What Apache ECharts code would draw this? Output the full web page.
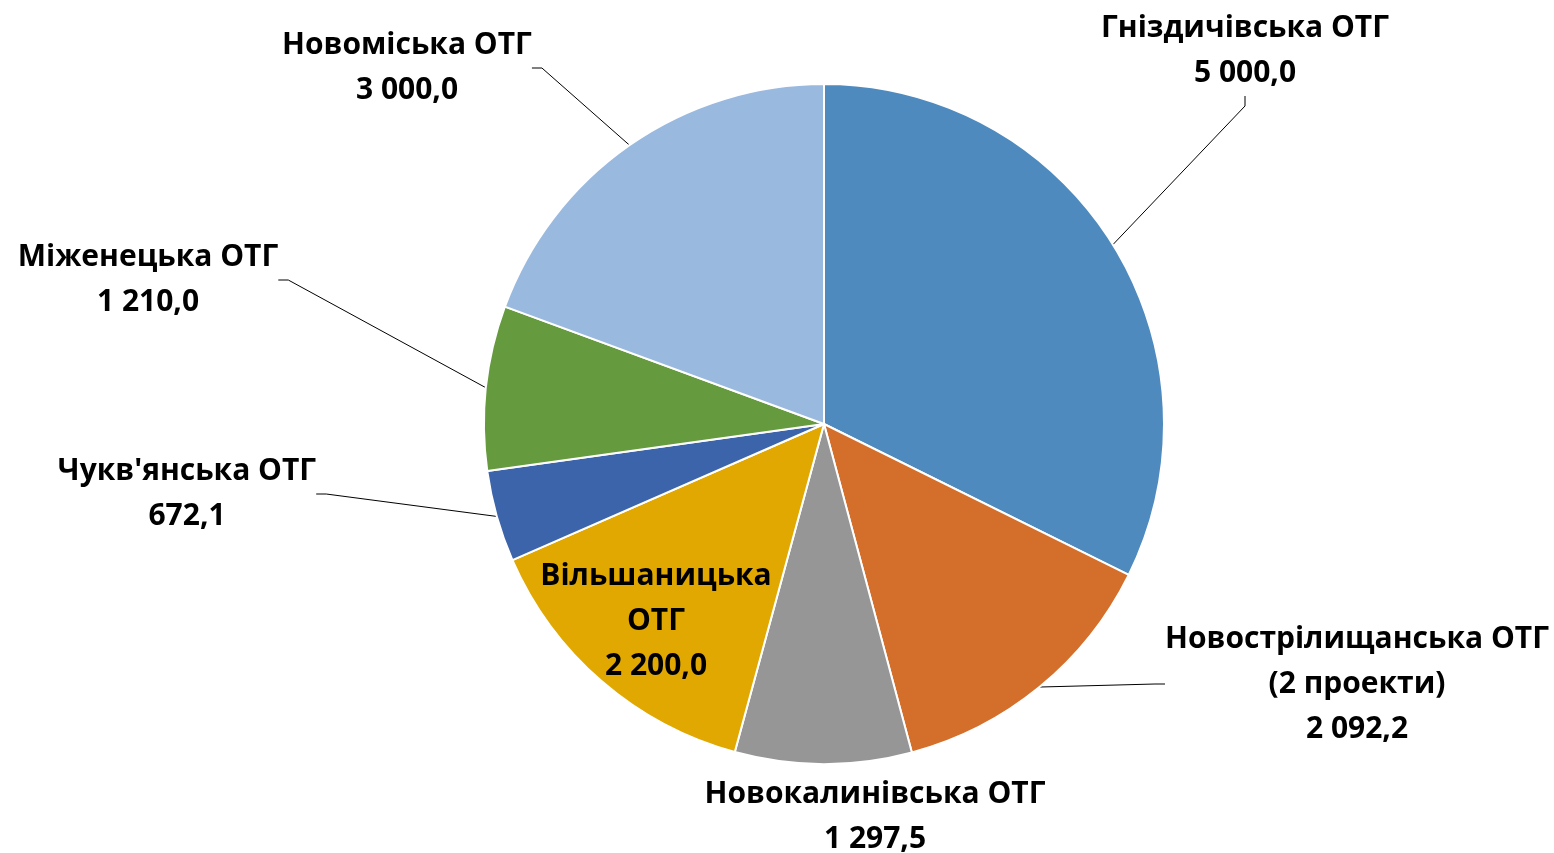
<!DOCTYPE html>
<html>
<head>
<meta charset="utf-8">
<script src="https://cdn.jsdelivr.net/npm/echarts@6/dist/echarts.min.js"></script>
<style>
  html, body { margin: 0; padding: 0; background: #fff; }
  #chart { width: 1554px; height: 853px; }
</style>
</head>
<body>
<div id="chart"></div>
<script>
// дані
const names = [
  'Гніздичівська ОТГ',
  'Новострілищанська ОТГ\n(2 проекти)',
  'Новокалинівська ОТГ',
  'Вільшаницька\nОТГ',
  "Чукв'янська ОТГ",
  'Міженецька ОТГ',
  'Новоміська ОТГ'
]
const values = [5000.0, 2092.2, 1297.5, 2200.0, 672.1, 1210.0, 3000.0]
const colors = ['#4F8ABE', '#D46F2B', '#969696', '#E0A800', '#3C64AA', '#659B3E', '#9AB9DF']

// позиції підписів (центр блоку тексту)
const labelPos = [
  [1245, 51], [1357, 684], [875, 817], [656, 621], [187, 494], [148, 280], [407, 68]
]

const fmt = v => {
  const s = v.toFixed(1).split('.')
  return s[0].replace(/\B(?=(\d{3})+(?!\d))/g, ' ') + ',' + s[1]
}

const chart = echarts.init(document.getElementById('chart'))

chart.setOption({
  animation: false,
  series: [{
    type: 'pie',
    center: [824, 424],
    radius: 340,
    startAngle: 90,
    clockwise: true,
    avoidLabelOverlap: false,
    itemStyle: { borderColor: '#fff', borderWidth: 2 },
    label: {
      show: true,
      position: 'outside',
      formatter: p => p.name + '\n' + fmt(p.value),
      fontFamily: 'Open Sans',
      fontWeight: 'bold',
      fontSize: 30,
      lineHeight: 45,
      color: '#000',
      align: 'center'
    },
    labelLine: {
      show: true,
      length: 20,
      length2: 10,
      lineStyle: { color: '#000', width: 1 }
    },
    labelLayout: p => {
      const pos = labelPos[p.dataIndex]
      return { x: pos[0], y: pos[1], align: 'center', verticalAlign: 'middle' }
    },
    data: names.map((n, i) => {
      const item = { name: n, value: values[i], itemStyle: { color: colors[i] } }
      if (i === 3) item.label = { position: 'inside' }
      if (i === 2) item.labelLine = { show: false }
      return item
    })
  }]
})
</script>
</body>
</html>
